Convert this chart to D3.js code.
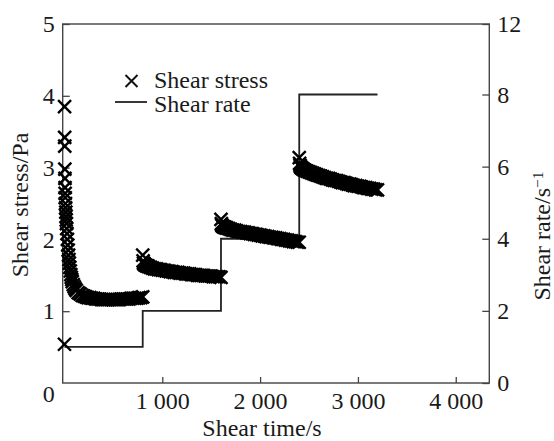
<!DOCTYPE html>
<html><head><meta charset="utf-8">
<script src="https://cdn.jsdelivr.net/npm/d3@7"></script>
<style>
body{margin:0;background:#fff}
svg{display:block}
</style>
</head><body>
<svg id="c" width="554" height="441"></svg>
<script>
// ---- data ----
const xTicks = [1000, 2000, 3000, 4000];
const xTickLabels = ["1 000", "2 000", "3 000", "4 000"];
const stressTicks = [1, 2, 3, 4, 5];
const rateTicks = [0, 2, 4, 6, 8, 12];

const rateStepTimes = [0, 800, 1600, 2400, 3200];
const rateValues = [1, 2, 4, 8, 8];

const seg1Times = [0,1,2,3,4,5,6,7,8,10,12,14,16,18,20,23,26,30,34,38,42,46,50,55,60,65,70,75,80,90,100,110,120,140,160,180,200,
  220,240,260,280,300,320,340,360,380,400,420,440,460,480,500,520,540,560,580,600,620,640,660,680,700,720,740,760,780,800];
const seg1Stress = [0.54,3.85,3.42,3.30,2.98,2.85,2.72,2.64,2.58,2.50,2.44,2.38,2.32,2.27,2.22,2.15,2.08,2.00,1.92,1.85,1.78,1.72,1.67,1.61,1.56,1.51,1.47,1.44,1.41,1.37,1.34,1.31,1.29,1.26,1.24,1.22,1.21,
  1.20,1.19,1.19,1.18,1.18,1.17,1.17,1.17,1.16,1.16,1.16,1.16,1.16,1.16,1.16,1.16,1.16,1.16,1.17,1.17,1.17,1.17,1.17,1.18,1.18,1.18,1.18,1.19,1.19,1.20];

const stepStarts = [800, 1600, 2400];
const stepOffsets = [0,4,8,14,20,30,40,50,60,80,100,120,140,160,180,200,220,240,260,280,300,320,340,360,380,400,
  420,440,460,480,500,520,540,560,580,600,620,640,660,680,700,720,740,760,780,800];
const seg2Stress = [1.78,1.70,1.67,1.66,1.65,1.64,1.63,1.63,1.62,1.61,1.60,1.59,1.59,1.58,1.58,1.57,1.57,1.56,1.56,1.55,1.55,1.54,1.54,1.54,1.53,1.53,
  1.53,1.52,1.52,1.52,1.51,1.51,1.51,1.50,1.50,1.50,1.50,1.49,1.49,1.49,1.49,1.48,1.48,1.48,1.48,1.47];
const seg3Stress = [2.28,2.22,2.20,2.19,2.18,2.17,2.17,2.16,2.16,2.15,2.14,2.13,2.13,2.12,2.11,2.11,2.10,2.10,2.09,2.09,2.08,2.08,2.07,2.07,2.06,2.06,
  2.05,2.05,2.04,2.04,2.03,2.03,2.02,2.02,2.01,2.01,2.00,2.00,1.99,1.99,1.98,1.98,1.97,1.97,1.96,1.96];
const seg4Stress = [3.14,3.06,3.03,3.01,3.00,2.99,2.98,2.97,2.96,2.95,2.94,2.93,2.92,2.91,2.90,2.89,2.88,2.87,2.86,2.85,2.85,2.84,2.83,2.82,2.82,2.81,
  2.80,2.79,2.79,2.78,2.77,2.77,2.76,2.75,2.75,2.74,2.74,2.73,2.72,2.72,2.71,2.71,2.70,2.70,2.69,2.69];

// ---- layout ----
const L = 62.7, R = 489.3, T = 24, B = 383;
const FS = 24;
const FONT = "'Liberation Serif', 'Times New Roman', Tinos, 'DejaVu Serif', 'Noto Serif', serif";

const svg = d3.select("#c").style("font-family", FONT);
const x = d3.scaleLinear().domain([-18, 4343]).range([L, R]);
const y = d3.scaleLinear().domain([0, 5]).range([B, T]);
const y2 = d3.scaleLinear().domain([0, 8, 12]).range([B, 94.5, T]);

const axisColor = "#444";
const textColor = "#1a1a1a";

// frame
svg.append("rect").attr("x", L).attr("y", T).attr("width", R - L).attr("height", B - T)
  .attr("fill", "none").attr("stroke", axisColor).attr("stroke-width", 1.4);

function styleAxis(g) {
  g.attr("font-family", null).attr("font-size", null);
  g.select(".domain").remove();
  g.selectAll(".tick line").attr("stroke", axisColor).attr("stroke-width", 1.3);
  g.selectAll(".tick text").style("font-family", FONT).style("font-size", FS + "px").attr("fill", textColor);
}

svg.append("g").attr("transform", `translate(0,${B})`)
  .call(d3.axisBottom(x).tickValues(xTicks).tickFormat((d, i) => xTickLabels[i]).tickSize(-6).tickPadding(9))
  .call(styleAxis);

svg.append("g").attr("transform", `translate(${L},0)`)
  .call(d3.axisLeft(y).tickValues(stressTicks).tickFormat(d3.format("d")).tickSize(-7).tickPadding(8))
  .call(styleAxis);

svg.append("g").attr("transform", `translate(${R},0)`)
  .call(d3.axisRight(y2).tickValues(rateTicks).tickFormat(d3.format("d")).tickSize(-7).tickPadding(8))
  .call(styleAxis);

function label(sel) {
  return sel.style("font-family", FONT).style("font-size", FS + "px").attr("fill", textColor);
}

// origin label for the left axis
svg.append("text").attr("x", L - 8).attr("y", y(0) + 11).attr("dy", "0.32em")
  .attr("text-anchor", "end").call(label).text("0");

// shear rate step line
const ratePts = rateStepTimes.map((t, i) => [t, rateValues[i]]);
svg.append("path").datum(ratePts)
  .attr("d", d3.line().x(d => x(d[0])).y(d => y2(d[1])).curve(d3.curveStepAfter))
  .attr("fill", "none").attr("stroke", "#222").attr("stroke-width", 1.8);

// shear stress points
const stressPts = seg1Times.map((t, i) => [t, seg1Stress[i]]);
[seg2Stress, seg3Stress, seg4Stress].forEach((vals, s) => {
  vals.forEach((v, i) => stressPts.push([stepStarts[s] + stepOffsets[i], v]));
});
const cross = "M-6.5,-6.5L6.5,6.5M-6.5,6.5L6.5,-6.5";
svg.append("g").selectAll("path").data(stressPts).join("path")
  .attr("transform", d => `translate(${x(d[0])},${y(d[1])})`)
  .attr("d", cross).attr("fill", "none").attr("stroke", "#000").attr("stroke-width", 2.4);

// legend
svg.append("path").attr("transform", "translate(131.5,81)").attr("d", "M-6,-6L6,6M-6,6L6,-6")
  .attr("fill", "none").attr("stroke", "#111").attr("stroke-width", 2);
svg.append("text").attr("x", 154).attr("y", 88).call(label).text("Shear stress");
svg.append("line").attr("x1", 115).attr("x2", 147).attr("y1", 102).attr("y2", 102)
  .attr("stroke", "#222").attr("stroke-width", 1.8);
svg.append("text").attr("x", 154).attr("y", 112).call(label).text("Shear rate");

// axis titles
svg.append("text").attr("x", 262).attr("y", 436).attr("text-anchor", "middle").call(label).text("Shear time/s");
svg.append("text").attr("transform", "translate(28,205) rotate(-90)").attr("text-anchor", "middle")
  .call(label).text("Shear stress/Pa");
const rt = svg.append("text").attr("transform", "translate(550,236) rotate(-90)").attr("text-anchor", "middle")
  .call(label);
rt.append("tspan").text("Shear rate/s");
rt.append("tspan").attr("dy", "-0.45em").style("font-size", (FS * 0.65) + "px").text("\u22121");
</script>
</body></html>
